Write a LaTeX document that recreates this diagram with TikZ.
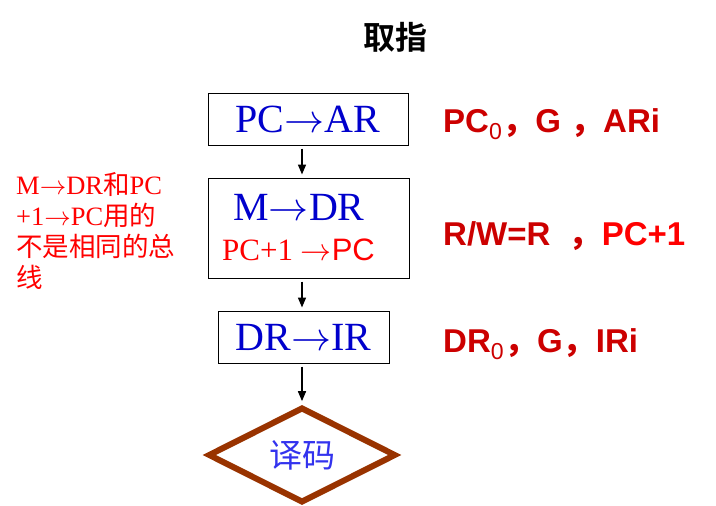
\documentclass[tikz,border=0pt]{standalone}
\usepackage{graphicx}
\usepackage{fontspec}
\usepackage{xcolor}
\usepackage{tikz}
\usetikzlibrary{positioning, arrows.meta, shapes.geometric}
\setmainfont{Liberation Serif}
\newfontfamily\lsans{Liberation Sans}
\newfontfamily\cjk{Noto Sans CJK SC}
\newfontfamily\cjkbold{Noto Sans CJK SC Bold}
\definecolor{fzblue}{HTML}{0000CC}
\definecolor{fzred}{HTML}{FF0000}
\definecolor{fzdark}{HTML}{CC0000}
\definecolor{fzbrown}{HTML}{993300}
\definecolor{fzlight}{HTML}{3333EE}
\newcommand{\toarr}{\resizebox{1em}{!}{$\rightarrow$}}
\tikzset{
  opbox/.style={draw=black, line width=1pt, inner sep=0pt, font=\fontsize{40pt}{44pt}\selectfont, text=fzblue},
  ctrl/.style={anchor=base west, inner sep=0pt, text=fzdark, font=\lsans\bfseries\fontsize{33pt}{36pt}\selectfont},
  flow/.style={line width=1.5pt, -{Triangle[length=10pt,width=8pt]}, shorten <=3pt, shorten >=3pt}
}

\begin{document}
\begin{tikzpicture}[x=1pt, y=-1pt]
  \useasboundingbox (0,0) rectangle (716,506);
  \node[font=\cjkbold\fontsize{32pt}{36pt}\selectfont] (title) at (395,37) {取指};
  \node[opbox, minimum width=200pt, minimum height=52pt] (fetch) at (308,119) {PC\toarr AR};
  \node[opbox, minimum width=201pt, minimum height=100pt, align=center] (read) at (308.5,228)
    {M\toarr DR\hspace*{19pt}\\[-4pt]{\color{fzred}\fontsize{31pt}{34pt}\selectfont PC+1 \toarr{\lsans PC}\hspace*{20pt}}};
  \node[opbox, minimum width=171pt, minimum height=52pt] (load) at (303.5,337) {DR\toarr IR};
  \node[diamond, draw=fzbrown, line width=6pt, minimum width=188pt, minimum height=83pt, inner sep=0pt,
        text=fzlight, font=\cjk\fontsize{33pt}{36pt}\selectfont] (dec) at (302,455) {译码};
  \draw[flow] (fetch.south -| dec.north) -- (read.north -| dec.north);
  \draw[flow] (read.south -| dec.north) -- (load.north -| dec.north);
  \draw[flow] (load.south -| dec.north) -- (dec.north);
  \node[ctrl] (sig1) at (443,132) {PC\textsubscript{\mdseries 0}{\cjk，}G {\cjk，}ARi};
  \node[ctrl] (sig2) at (443,245) {R/W=R\ \ {\cjk，}{\color{fzred}PC+1}};
  \node[ctrl] (sig3) at (443,352) {DR\textsubscript{\mdseries 0}{\cjk，}G{\cjk，}IRi};
  \node[anchor=north west, inner sep=0pt, align=left, text=fzred, font=\fontsize{26.5pt}{31pt}\selectfont] (note) at (16,172)
    {M\toarr DR{\cjk 和}PC\\+1\toarr PC{\cjk 用的}\\{\cjk 不是相同的总}\\{\cjk 线}};
\end{tikzpicture}
\end{document}
